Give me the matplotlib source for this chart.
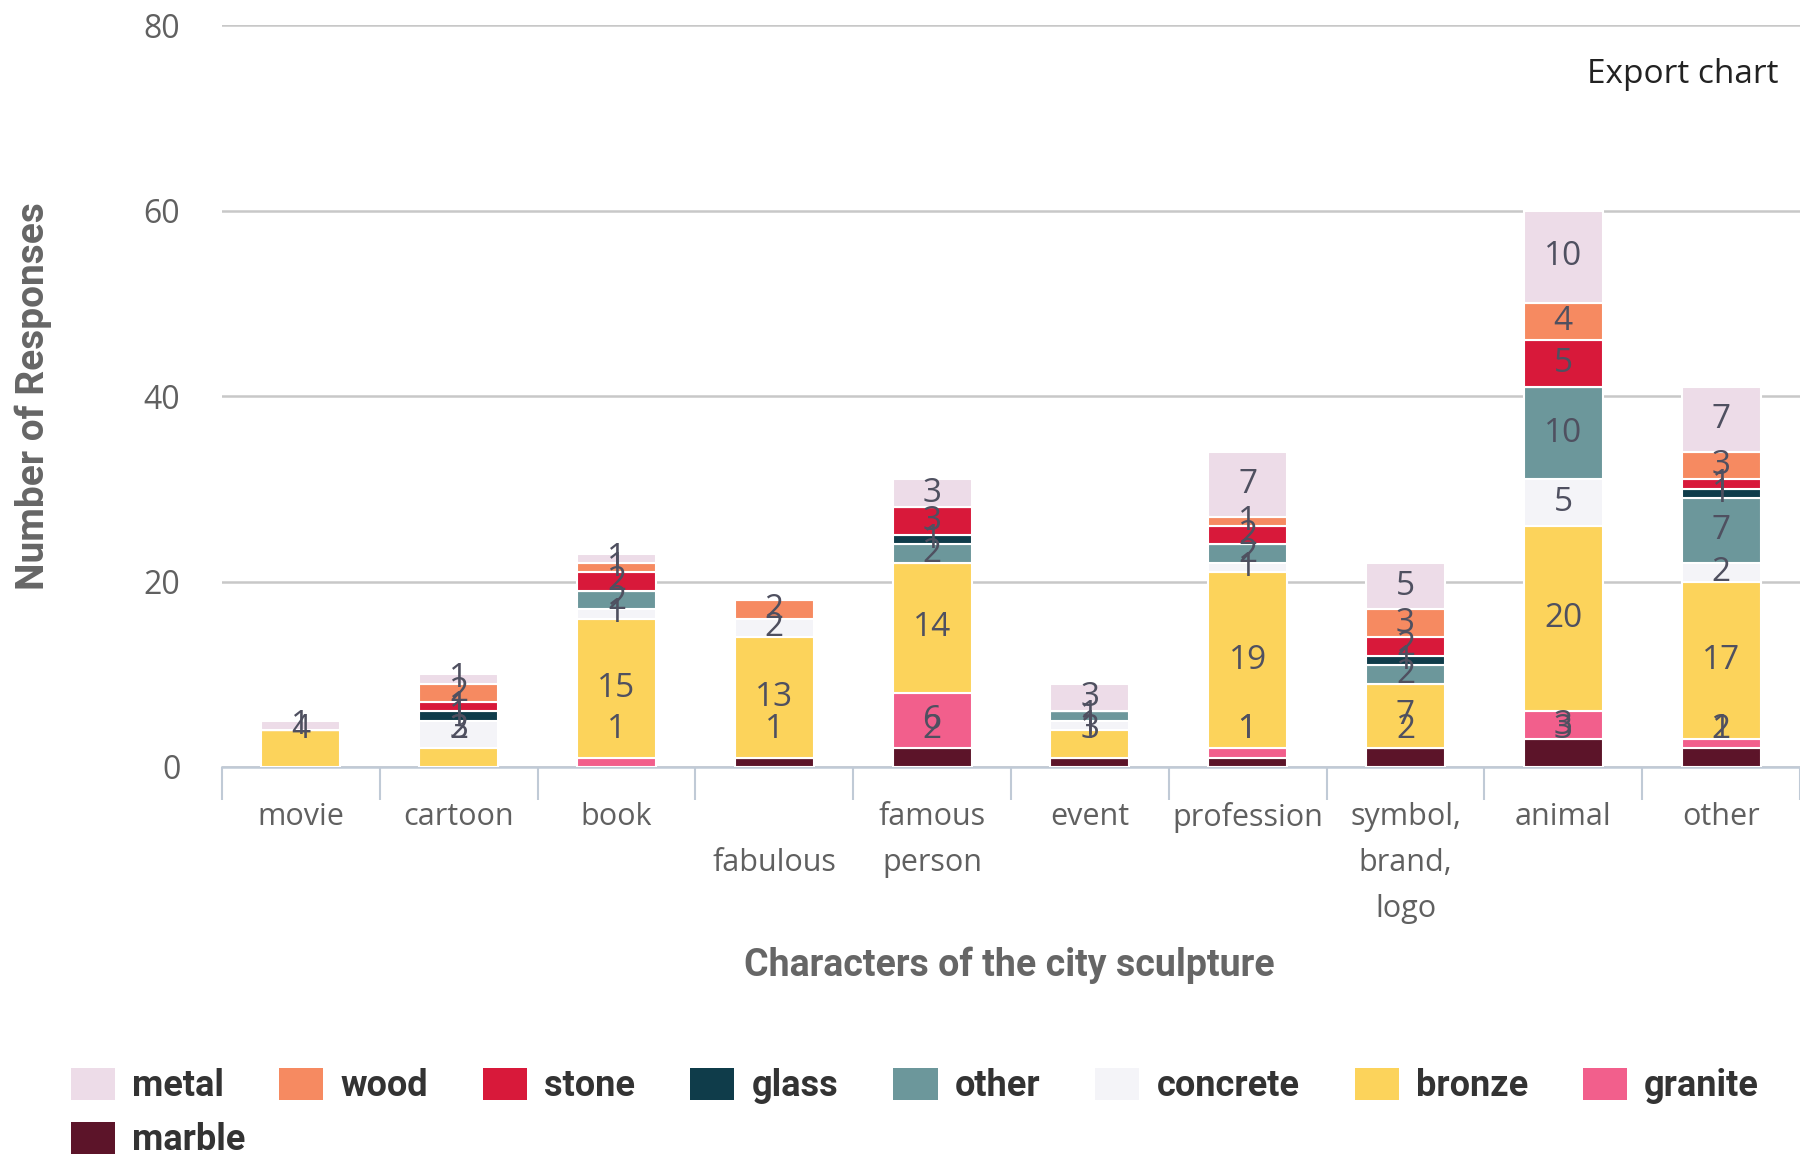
import matplotlib
matplotlib.use('Agg')
import matplotlib.pyplot as plt
from matplotlib import font_manager
from matplotlib.patches import Patch
import numpy as np

categories = ['movie', 'cartoon', 'book', '\nfabulous', 'famous\nperson', 'event',
              'profession', 'symbol,\nbrand,\nlogo', 'animal', 'other']

# stacked bottom -> top
marble   = [0, 0, 0, 1, 2, 1, 1, 2, 3, 2]
granite  = [0, 0, 1, 0, 6, 0, 1, 0, 3, 1]
bronze   = [4, 2, 15, 13, 14, 3, 19, 7, 20, 17]
concrete = [0, 3, 1, 2, 0, 1, 1, 0, 5, 2]
other    = [0, 0, 2, 0, 2, 1, 2, 2, 10, 7]
glass    = [0, 1, 0, 0, 1, 0, 0, 1, 0, 1]
stone    = [0, 1, 2, 0, 3, 0, 2, 2, 5, 1]
wood     = [0, 2, 1, 2, 0, 0, 1, 3, 4, 3]
metal    = [1, 1, 1, 0, 3, 3, 7, 5, 10, 7]

series = [('marble', marble, '#5c1429'), ('granite', granite, '#f25f8c'),
          ('bronze', bronze, '#fcd35b'), ('concrete', concrete, '#f4f4f8'),
          ('other', other, '#6c979b'), ('glass', glass, '#0f3c4a'),
          ('stone', stone, '#d8193a'), ('wood', wood, '#f68a61'),
          ('metal', metal, '#eddce8')]

avail = set(f.name for f in font_manager.fontManager.ttflist)
base = 'Open Sans' if 'Open Sans' in avail else 'DejaVu Sans'
bold = 'Roboto' if 'Roboto' in avail else base
plt.rcParams['font.family'] = [base, 'DejaVu Sans']

fig = plt.figure(figsize=(18, 11.6), dpi=100)
ax = fig.add_axes([0.1233, 0.3388, 0.8767, 0.6396])

x = np.arange(len(categories))
bottom = np.zeros(len(categories))
for name, vals, col in series:
    v = np.array(vals, dtype=float)
    ax.bar(x, v, 0.5, bottom=bottom, color=col, edgecolor='white', linewidth=1.5, zorder=3)
    for i in range(len(v)):
        if v[i] > 0:
            yc = max(bottom[i] + v[i] / 2, 4)
            ax.text(x[i], yc, str(int(v[i])), ha='center', va='center',
                    fontsize=24, color='#4f5060', zorder=4)
    bottom += v

ax.set_xlim(-0.5, len(categories) - 0.5)
ax.set_ylim(0, 80)
ax.set_yticks([0, 20, 40, 60, 80])
ax.grid(axis='y', color='#c8c8c8', linewidth=1.8, zorder=0)
for s in ['top', 'right', 'left']:
    ax.spines[s].set_visible(False)
ax.spines['bottom'].set_color('#c0cad6')
ax.spines['bottom'].set_linewidth(1.8)
ax.tick_params(axis='y', length=0, pad=30, labelsize=23, labelcolor='#606060')

ax.set_xticks(x)
ax.set_xticklabels(categories, fontsize=22, color='#606060', linespacing=1.7)
ax.tick_params(axis='x', length=0, pad=25)
ax.set_xticks(np.arange(-0.5, len(categories), 1.0), minor=True)
ax.tick_params(axis='x', which='minor', length=24, width=1.5, color='#c0cad6')

ax.set_ylabel('Number of Responses', fontsize=28, fontweight='bold', color='#666666',
              family=[bold, 'DejaVu Sans'])
ax.yaxis.set_label_coords(-0.108, 0.5)
fig.text(0.561, 0.168, 'Characters of the city sculpture', ha='center', va='center',
         fontsize=27, fontweight='bold', color='#666666', family=[bold, 'DejaVu Sans'])

fig.text(0.935, 0.936, 'Export chart', ha='center', va='center', fontsize=24, color='#222222')

cols = {n: c for n, _, c in series}
row1 = ['metal', 'wood', 'stone', 'glass', 'other', 'concrete', 'bronze', 'granite']
row2 = ['marble']
legend_kw = dict(frameon=False, prop={'family': [bold, 'DejaVu Sans'], 'weight': 'bold', 'size': 26},
                 handlelength=1.22, handleheight=1.0, handletextpad=0.47, columnspacing=1.53,
                 borderpad=0, borderaxespad=0)
for names, yy in [(row1, 0.0638), (row2, 0.0172)]:
    leg = fig.legend([Patch(facecolor=cols[n], edgecolor='none') for n in names], names,
                     loc='center left', bbox_to_anchor=(0.0395, yy), ncol=len(names), **legend_kw)
    for t in leg.get_texts():
        t.set_color('#333333')

fig.savefig('out.png', dpi=100, facecolor='white')
